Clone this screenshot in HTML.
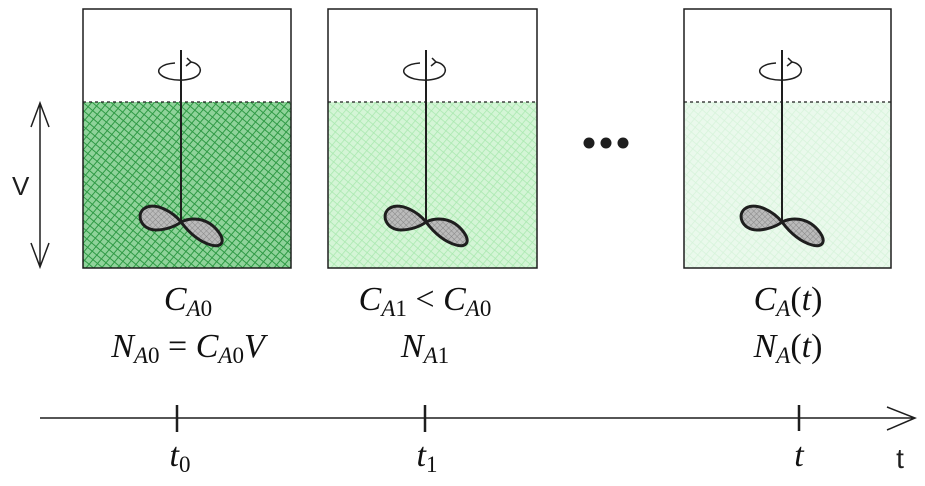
<!DOCTYPE html>
<html><head><style>body{margin:0;background:#fff}svg{display:block}</style></head><body>
<svg width="925" height="486" viewBox="0 0 925 486" xmlns="http://www.w3.org/2000/svg">
<defs>
<pattern id="h1" width="6" height="6" patternUnits="userSpaceOnUse" patternTransform="rotate(40)">
<rect width="6" height="6" fill="#8fd39a"/><path d="M0 0H6M0 0V6" stroke="#2f9a45" stroke-width="2"/></pattern>
<pattern id="h2" width="6" height="6" patternUnits="userSpaceOnUse" patternTransform="rotate(40)">
<rect width="6" height="6" fill="#d4f5d6"/><path d="M0 0H6M0 0V6" stroke="#a8e8ae" stroke-width="1.5"/></pattern>
<pattern id="h3" width="6" height="6" patternUnits="userSpaceOnUse" patternTransform="rotate(40)">
<rect width="6" height="6" fill="#eaf9ec"/><path d="M0 0H6M0 0V6" stroke="#d6f3da" stroke-width="1.5"/></pattern>
<pattern id="gi" width="4" height="4" patternUnits="userSpaceOnUse" patternTransform="rotate(45)">
<rect width="4" height="4" fill="#bbb"/><path d="M0 0H4M0 0V4" stroke="#888" stroke-width="1"/></pattern>
<g id="stir">
<path d="M98 50 L98 222" stroke="#1e1e1e" stroke-width="2" fill="none"/>
<path d="M92 63 C78 64 72 70 78 75 C86 82 110 82 116 74 C120 68 114 63 108 62" stroke="#1e1e1e" stroke-width="1.5" fill="none"/>
<path d="M104 58 L108 62 L103 66" stroke="#1e1e1e" stroke-width="1.5" fill="none"/>
<path transform="translate(98,222)" d="M0 0 C-8 -10 -25 -20 -36 -14 C-46 -8 -40 8 -25 8 C-15 8 -5 4 0 0 C8 -4 24 -6 36 8 C46 20 40 26 30 23 C16 19 6 8 0 0Z" fill="url(#gi)" stroke="#1e1e1e" stroke-width="3" stroke-linejoin="round"/>
</g>
</defs>
<g transform="translate(83,0)">
<rect x="0" y="102" width="208" height="166" fill="url(#h1)"/>
<path d="M0 102H208" stroke="#1e1e1e" stroke-width="1.2" stroke-dasharray="3 3"/>
<path d="M0 9H208V268H0Z" stroke="#1e1e1e" stroke-width="1.5" fill="none"/>
<use href="#stir"/>
</g>
<g transform="translate(328,0)">
<rect x="0" y="102" width="209" height="166" fill="url(#h2)"/>
<path d="M0 102H209" stroke="#1e1e1e" stroke-width="1.2" stroke-dasharray="3 3"/>
<path d="M0 9H209V268H0Z" stroke="#1e1e1e" stroke-width="1.5" fill="none"/>
<use href="#stir"/>
</g>
<g transform="translate(684,0)">
<rect x="0" y="102" width="207" height="166" fill="url(#h3)"/>
<path d="M0 102H207" stroke="#1e1e1e" stroke-width="1.2" stroke-dasharray="3 3"/>
<path d="M0 9H207V268H0Z" stroke="#1e1e1e" stroke-width="1.5" fill="none"/>
<use href="#stir"/>
</g>
<path d="M40 103V267M31 127L40 103L49 127M31 243L40 267L49 243" stroke="#1e1e1e" stroke-width="1.5" fill="none"/>
<text x="12" y="195" font-family="Liberation Sans, sans-serif" font-size="26" fill="#1e1e1e">V</text>
<circle cx="589" cy="143" r="5.5" fill="#1e1e1e"/><circle cx="606" cy="143" r="5.5" fill="#1e1e1e"/><circle cx="623" cy="143" r="5.5" fill="#1e1e1e"/>
<g font-family="Liberation Serif, serif" font-size="34" fill="#111" text-anchor="middle">
<text x="188" y="310"><tspan font-style="italic">C</tspan><tspan font-style="italic" font-size="23" dy="6">A</tspan><tspan font-size="23">0</tspan></text>
<text x="188" y="357"><tspan font-style="italic">N</tspan><tspan font-style="italic" font-size="23" dy="6">A</tspan><tspan font-size="23">0</tspan><tspan dy="-6"> = </tspan><tspan font-style="italic">C</tspan><tspan font-style="italic" font-size="23" dy="6">A</tspan><tspan font-size="23">0</tspan><tspan font-style="italic" dy="-6">V</tspan></text>
<text x="425" y="310"><tspan font-style="italic">C</tspan><tspan font-style="italic" font-size="23" dy="6">A</tspan><tspan font-size="23">1</tspan><tspan dy="-6"> &lt; </tspan><tspan font-style="italic">C</tspan><tspan font-style="italic" font-size="23" dy="6">A</tspan><tspan font-size="23">0</tspan></text>
<text x="425" y="357"><tspan font-style="italic">N</tspan><tspan font-style="italic" font-size="23" dy="6">A</tspan><tspan font-size="23">1</tspan></text>
<text x="788" y="310"><tspan font-style="italic">C</tspan><tspan font-style="italic" font-size="23" dy="6">A</tspan><tspan dy="-6">(</tspan><tspan font-style="italic">t</tspan>)</text>
<text x="788" y="357"><tspan font-style="italic">N</tspan><tspan font-style="italic" font-size="23" dy="6">A</tspan><tspan dy="-6">(</tspan><tspan font-style="italic">t</tspan>)</text>
<text x="180" y="466"><tspan font-style="italic">t</tspan><tspan font-size="23" dy="6">0</tspan></text>
<text x="427" y="466"><tspan font-style="italic">t</tspan><tspan font-size="23" dy="6">1</tspan></text>
<text x="799" y="466" font-style="italic">t</text>
</g>
<text x="900" y="468" font-family="Liberation Sans, sans-serif" font-size="28" fill="#1e1e1e" text-anchor="middle">t</text>
<path d="M40 418H915M887 407L915 418L887 430" stroke="#1e1e1e" stroke-width="1.5" fill="none"/>
<path d="M177 405V432M425 405V432M799 405V431" stroke="#1e1e1e" stroke-width="2.5"/>
</svg>
</body></html>
